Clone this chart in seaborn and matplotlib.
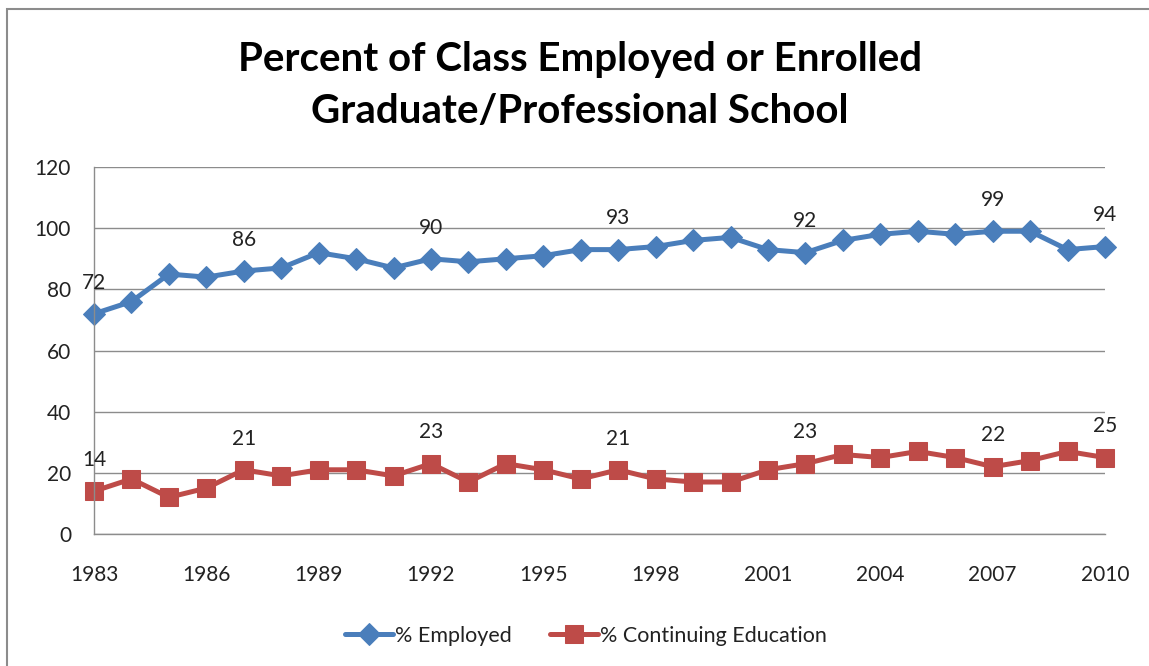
#!/usr/bin/env python3
import pandas as pd
import seaborn as sns
import matplotlib.pyplot as plt
from matplotlib.patches import Rectangle

years = list(range(1983, 2011))
employed = [72, 76, 85, 84, 86, 87, 92, 90, 87, 90, 89, 90, 91, 93,
            93, 94, 96, 97, 93, 92, 96, 98, 99, 98, 99, 99, 93, 94]
continuing = [14, 18, 12, 15, 21, 19, 21, 21, 19, 23, 17, 23, 21, 18,
              21, 18, 17, 17, 21, 23, 26, 25, 27, 25, 22, 24, 27, 25]
label_years = [1983, 1987, 1992, 1997, 2002, 2007, 2010]
xtick_years = list(range(1983, 2011, 3))
yticks = [0, 20, 40, 60, 80, 100, 120]

blue = '#4A7EBB'
red = '#BE4B48'
grid_gray = '#8C8C8C'
text_col = '#222222'

sns.set_style('white')
plt.rcParams['font.family'] = ['Lato', 'DejaVu Sans']

df = pd.DataFrame({'year': years, 'employed': employed, 'continuing': continuing})

fig = plt.figure(figsize=(11.49, 6.66), dpi=100)
ax = fig.add_axes([0.0818, 0.1982, 0.8799, 0.551])

sns.lineplot(data=df, x='year', y='employed', ax=ax, color=blue, lw=3.6,
             marker='D', markersize=11, markeredgecolor=blue, clip_on=False,
             label='% Employed')
sns.lineplot(data=df, x='year', y='continuing', ax=ax, color=red, lw=3.6,
             marker='s', markersize=12.5, markeredgecolor=red, clip_on=False,
             label='% Continuing Education')

# data labels above selected points
for yr in label_years:
    i = years.index(yr)
    for val in (employed[i], continuing[i]):
        ax.annotate(str(val), (yr, val), xytext=(0, 22.5), textcoords='offset points',
                    ha='center', va='center', fontsize=15, color=text_col)

ax.set_xlim(1983, 2010)
ax.set_ylim(0, 120)
ax.set_yticks(yticks)
ax.set_xticks(xtick_years)
ax.set_xticks(years, minor=True)
ax.set_xlabel('')
ax.set_ylabel('')
ax.grid(axis='y', color=grid_gray, lw=1)
ax.set_axisbelow(True)
for side in ('top', 'right'):
    ax.spines[side].set_visible(False)
for side in ('left', 'bottom'):
    ax.spines[side].set_color(grid_gray)
    ax.spines[side].set_linewidth(1)
ax.tick_params(axis='both', which='both', direction='out', color=grid_gray,
               length=6, width=1, labelsize=15, labelcolor=text_col)
ax.tick_params(axis='x', which='major', pad=16)
ax.tick_params(axis='y', pad=10.5)

ax.get_legend().remove()
handles, labels = ax.get_legend_handles_labels()
fig.legend(handles, labels, loc='center', bbox_to_anchor=(0.51, 0.045), ncol=2,
           frameon=False, fontsize=15.5, handlelength=2.2, handletextpad=0.1,
           columnspacing=1.8, labelcolor=text_col)

fig.text(0.505, 0.911, 'Percent of Class Employed or Enrolled', ha='center',
         va='center', fontsize=29, fontweight='bold', color='black')
fig.text(0.505, 0.832, 'Graduate/Professional School', ha='center',
         va='center', fontsize=29, fontweight='bold', color='black')

fig.patches.append(Rectangle((0.006, -0.1), 1.2, 1.086, transform=fig.transFigure,
                             fill=False, edgecolor='#8C8C8C', lw=1.5))

fig.savefig('out.png', dpi=100)
